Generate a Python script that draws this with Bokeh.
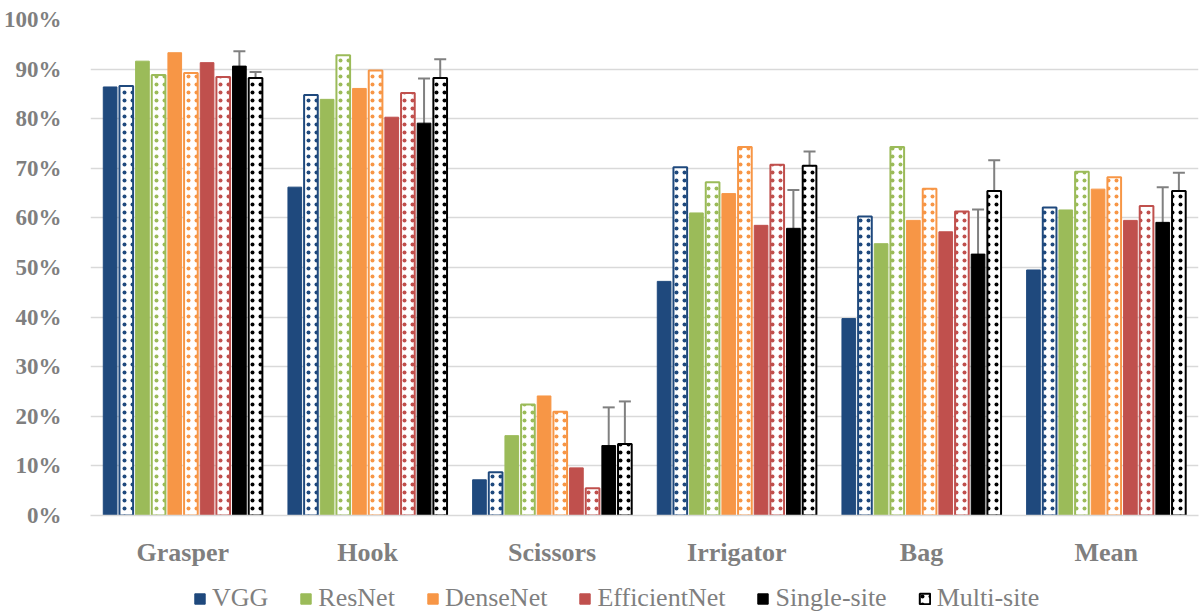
from bokeh.plotting import figure
from bokeh.layouts import column
from bokeh.models import (FactorRange, Range1d, FixedTicker, PrintfTickFormatter,
                          Whisker, TeeHead, ColumnDataSource, Legend, LegendItem)
from bokeh.transform import dodge
from bokeh.embed import file_html
from bokeh.resources import INLINE

categories = ["Grasper", "Hook", "Scissors", "Irrigator", "Bag", "Mean"]
vgg_single = [86.4, 66.2, 7.2, 47.2, 39.7, 49.5]
vgg_multi = [86.6, 84.8, 8.7, 70.2, 60.3, 62.1]
resnet_single = [91.6, 83.9, 16.1, 61.0, 54.8, 61.6]
resnet_multi = [88.8, 92.8, 22.4, 67.2, 74.3, 69.3]
densenet_single = [93.3, 86.1, 24.1, 64.9, 59.5, 65.8]
densenet_multi = [89.2, 89.7, 20.9, 74.3, 65.9, 68.2]
effnet_single = [91.3, 80.3, 9.6, 58.5, 57.2, 59.5]
effnet_multi = [88.4, 85.2, 5.5, 70.7, 61.3, 62.4]
single_mean = [90.6, 79.1, 14.1, 57.9, 52.7, 59.1]
single_std = [3.0, 9.0, 7.7, 7.7, 9.0, 7.1]
multi_mean = [88.2, 88.2, 14.4, 70.5, 65.4, 65.4]
multi_std = [1.2, 3.8, 8.6, 2.9, 6.2, 3.7]

models = ["VGG", "ResNet", "DenseNet", "EfficientNet", "Single-site", "Multi-site"]
colors = ["#1F497D", "#9BBB59", "#F79646", "#C0504D", "#000000", "#000000"]

src = ColumnDataSource(dict(
    cat=categories,
    vgg_s=vgg_single, vgg_m=vgg_multi,
    res_s=resnet_single, res_m=resnet_multi,
    den_s=densenet_single, den_m=densenet_multi,
    eff_s=effnet_single, eff_m=effnet_multi,
    sing=single_mean, mult=multi_mean,
    sing_lo=[m - s for m, s in zip(single_mean, single_std)],
    sing_hi=[m + s for m, s in zip(single_mean, single_std)],
    mult_lo=[m - s for m, s in zip(multi_mean, multi_std)],
    mult_hi=[m + s for m, s in zip(multi_mean, multi_std)],
))

FONT = "Liberation Serif"
GRAY = "#7F7F7F"
W = 1200

p = figure(x_range=FactorRange(*categories, range_padding=0.0), y_range=Range1d(0, 100),
           width=W, height=570, output_backend="svg", toolbar_location=None,
           min_border_left=90, min_border_top=19, min_border_right=2, min_border_bottom=55)
p.outline_line_color = None
p.xgrid.grid_line_color = None
p.ygrid.grid_line_color = "#D9D9D9"
p.ygrid.grid_line_width = 1.5
p.yaxis.ticker = FixedTicker(ticks=list(range(0, 101, 10)))
p.yaxis.formatter = PrintfTickFormatter(format="%d%%")
p.yaxis.axis_line_color = None
p.yaxis.major_tick_line_color = None
p.yaxis.minor_tick_line_color = None
p.yaxis.major_label_text_font = FONT
p.yaxis.major_label_text_font_style = "bold"
p.yaxis.major_label_text_font_size = "23px"
p.yaxis.major_label_text_color = GRAY
p.yaxis.major_label_standoff = 23
p.xaxis.axis_line_color = "#D9D9D9"
p.xaxis.axis_line_width = 1.5
p.xaxis.major_tick_line_color = None
p.xaxis.minor_tick_line_color = None
p.xaxis.major_label_text_font = FONT
p.xaxis.major_label_text_font_style = "bold"
p.xaxis.major_label_text_font_size = "26px"
p.xaxis.major_label_text_color = GRAY
p.xaxis.major_label_standoff = 16

pitch = 0.0875
bw = 0.074
fields = [("vgg_s", 0, False), ("vgg_m", 0, True), ("res_s", 1, False), ("res_m", 1, True),
          ("den_s", 2, False), ("den_m", 2, True), ("eff_s", 3, False), ("eff_m", 3, True),
          ("sing", 4, False), ("mult", 5, True)]


def bar_style(ci, dotted):
    c = colors[ci]
    if dotted:
        return dict(fill_color="white", line_color=c, line_width=2,
                    hatch_pattern=".", hatch_color=c, hatch_scale=8, hatch_weight=2)
    return dict(fill_color=c, line_color=c, line_width=1)


for i, (f, ci, dotted) in enumerate(fields):
    off = (i - 4.5) * pitch
    p.vbar(x=dodge("cat", off, range=p.x_range), top=f, width=bw, source=src,
           **bar_style(ci, dotted))

for f, lo, hi, i in [("sing", "sing_lo", "sing_hi", 8), ("mult", "mult_lo", "mult_hi", 9)]:
    off = (i - 4.5) * pitch
    w = Whisker(base=dodge("cat", off, range=p.x_range), lower=lo, upper=hi, source=src,
                line_color="#808080", line_width=2,
                upper_head=TeeHead(size=12, line_color="#808080", line_width=2),
                lower_head=TeeHead(size=12, line_color="#808080", line_width=2))
    p.add_layout(w)

# legend strip: same bars as legend sources, hidden so only the legend shows
lg = figure(width=W, height=44, output_backend="svg", toolbar_location=None,
            x_range=FactorRange(*categories), y_range=Range1d(0, 100),
            min_border_left=0, min_border_right=0, min_border_top=0, min_border_bottom=0)
lg.axis.visible = False
lg.grid.visible = False
lg.outline_line_color = None
legend_styles = [("vgg_s", 0, False), ("res_s", 1, False), ("den_s", 2, False),
                 ("eff_s", 3, False), ("sing", 4, False), ("mult", 5, True)]
items = []
for m, (f, ci, dotted) in zip(models, legend_styles):
    r = lg.vbar(x="cat", top=f, width=0.1, source=src, **bar_style(ci, dotted))
    r.visible = False
    items.append(LegendItem(label=m, renderers=[r]))
legend = Legend(items=items, orientation="horizontal", location=(103, 1),
                label_text_font=FONT, label_text_font_size="26px", label_text_color=GRAY,
                glyph_width=13, glyph_height=13, label_standoff=6, spacing=31,
                border_line_color=None, background_fill_alpha=0, padding=0, margin=0)
lg.add_layout(legend)

layout = column(p, lg, spacing=0)
open("out.html", "w").write(file_html(layout, INLINE))
